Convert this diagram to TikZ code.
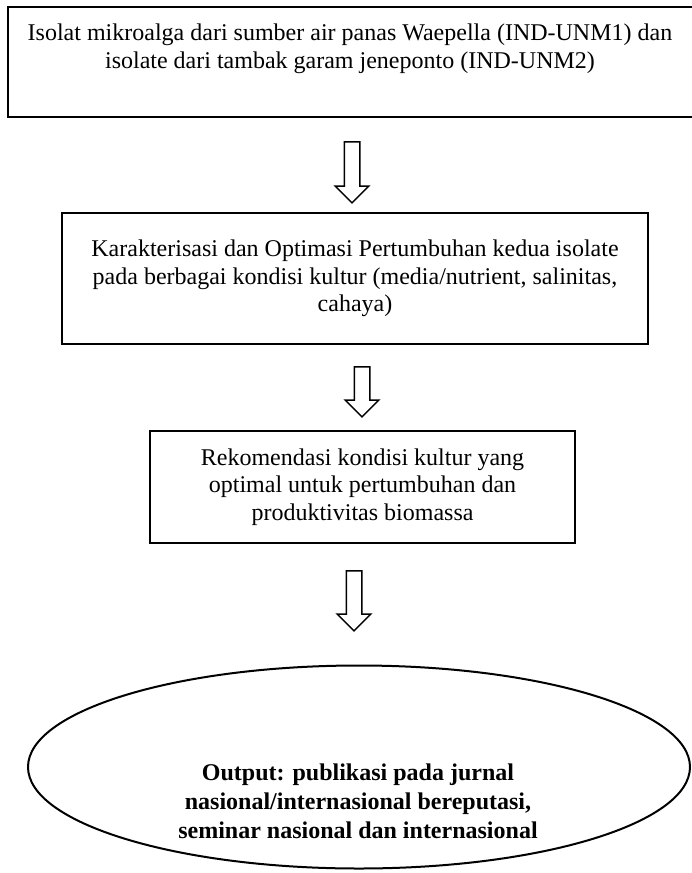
\documentclass[tikz,border=0pt]{standalone}
\usepackage{fontspec}
\setmainfont{Liberation Serif}
\usetikzlibrary{shapes.arrows,shapes.geometric,positioning}

\begin{document}
\begin{tikzpicture}[x=0.5pt,y=-0.5pt,
  box node/.style={draw,line width=1pt,rectangle,align=center,font=\fontsize{12}{13.8}\selectfont},
  text node/.style={align=center,font=\fontsize{12}{13.8}\selectfont},
  arrow node/.style={draw,line width=0.75pt,single arrow,shape border rotate=270,inner sep=3.5pt,single arrow head extend=4.5pt,minimum width=0pt},
  output node/.style={draw,line width=1pt,ellipse,inner sep=0pt}]
  \useasboundingbox (0,0) rectangle (691,873);
  % kotak pertama, teks di bagian atas
  \node[box node,minimum width=344pt,minimum height=55pt] (isolat) at (352,62) {};
  \node[text node] (isolattext) at (350,49) {Isolat mikroalga dari sumber air panas Waepella (IND-UNM1) dan\\isolate dari tambak garam jeneponto (IND-UNM2)};
  \node[arrow node,minimum height=30.5pt] (a1) at (352,168.5) {};
  \node[box node,minimum width=293pt,minimum height=65.5pt] (optimasi) at (355,278.5) {Karakterisasi dan Optimasi Pertumbuhan kedua isolate\\pada berbagai kondisi kultur (media/nutrient, salinitas,\\cahaya)};
  \node[arrow node,minimum height=25pt] (a2) at (362,388) {};
  \node[box node,minimum width=212.5pt,minimum height=56pt] (rekomendasi) at (362.5,487) {Rekomendasi kondisi kultur yang\\optimal untuk pertumbuhan dan\\produktivitas biomassa};
  \node[arrow node,minimum height=30pt] (a3) at (354,597) {};
  \node[output node,minimum width=331pt,minimum height=101.5pt] (output) at (359,767) {};
  \node[text node,font=\bfseries\fontsize{12}{14.5}\selectfont] (outputtext) at (358,801) {Output: publikasi pada jurnal\\nasional/internasional bereputasi,\\seminar nasional dan internasional};
\end{tikzpicture}
\end{document}
